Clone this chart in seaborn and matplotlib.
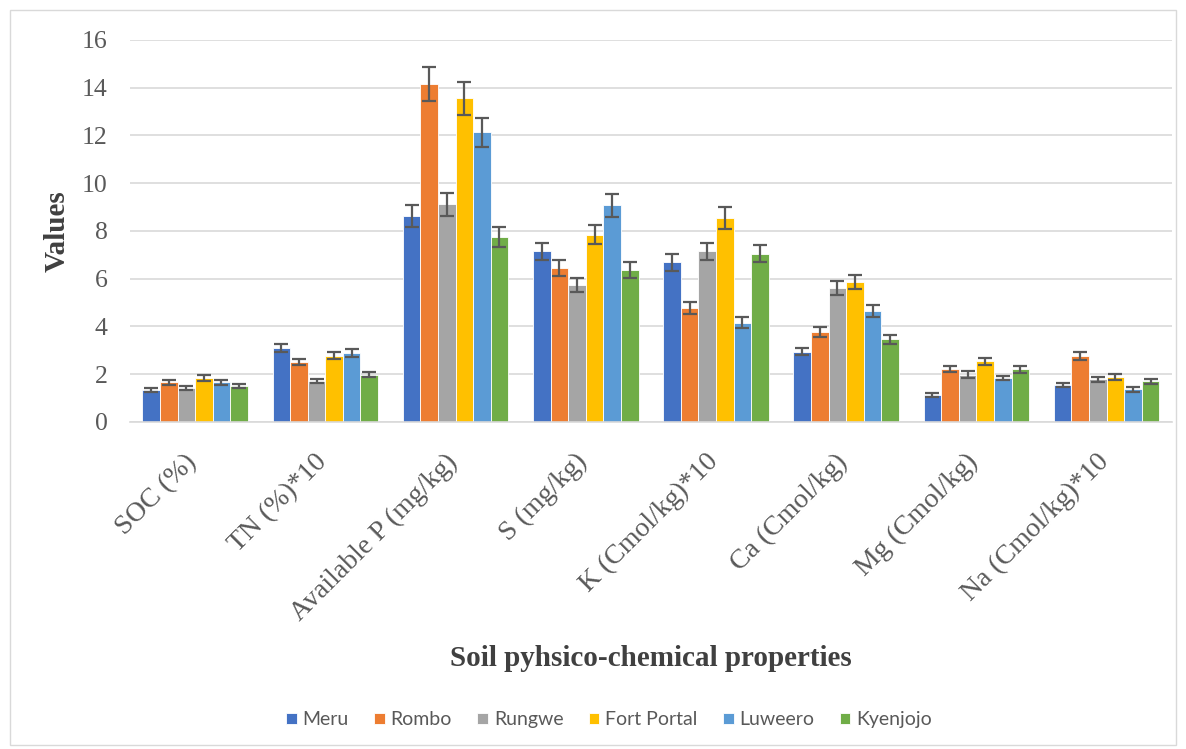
import numpy as np
import pandas as pd
import matplotlib
matplotlib.use("Agg")
import matplotlib.pyplot as plt
from matplotlib.patches import Rectangle
from matplotlib.transforms import ScaledTranslation
import seaborn as sns

properties = ["SOC (%)", "TN (%)*10", "Available P (mg/kg)", "S (mg/kg)",
              "K (Cmol/kg)*10", "Ca (Cmol/kg)", "Mg (Cmol/kg)", "Na (Cmol/kg)*10"]
sites = ["Meru", "Rombo", "Rungwe", "Fort Portal", "Luweero", "Kyenjojo"]

meru = [1.33, 3.10, 8.64, 7.15, 6.69, 2.95, 1.13, 1.56]
rombo = [1.66, 2.50, 14.15, 6.45, 4.78, 3.76, 2.22, 2.76]
rungwe = [1.42, 1.72, 9.12, 5.74, 7.15, 5.61, 1.98, 1.79]
fort_portal = [1.84, 2.78, 13.55, 7.85, 8.55, 5.85, 2.54, 1.88]
luweero = [1.66, 2.88, 12.14, 9.08, 4.16, 4.64, 1.84, 1.37]
kyenjojo = [1.51, 1.98, 7.76, 6.37, 7.05, 3.46, 2.21, 1.70]

meru_err = [0.08, 0.17, 0.46, 0.36, 0.36, 0.15, 0.09, 0.09]
rombo_err = [0.11, 0.13, 0.71, 0.34, 0.25, 0.20, 0.11, 0.17]
rungwe_err = [0.07, 0.08, 0.48, 0.31, 0.36, 0.29, 0.14, 0.11]
fort_portal_err = [0.11, 0.16, 0.68, 0.41, 0.46, 0.30, 0.15, 0.11]
luweero_err = [0.09, 0.16, 0.61, 0.48, 0.23, 0.25, 0.10, 0.10]
kyenjojo_err = [0.08, 0.11, 0.42, 0.34, 0.36, 0.19, 0.14, 0.10]

values = [meru, rombo, rungwe, fort_portal, luweero, kyenjojo]
errors = [meru_err, rombo_err, rungwe_err, fort_portal_err, luweero_err, kyenjojo_err]
colors = ["#4472C4", "#ED7D31", "#A5A5A5", "#FFC000", "#5B9BD5", "#70AD47"]

df = pd.DataFrame([
    {"Property": p, "Site": s, "Value": v}
    for s, vals in zip(sites, values)
    for p, v in zip(properties, vals)
])

sns.set_style("white")
plt.rcParams["font.family"] = ["Liberation Serif", "DejaVu Serif"]

fig = plt.figure(figsize=(11.86, 7.49), dpi=100)
ax = fig.add_axes([0.1096, 0.4366, 0.8784, 0.5100])

sns.barplot(data=df, x="Property", y="Value", hue="Site", order=properties,
            hue_order=sites, palette=colors, width=0.81, saturation=1,
            edgecolor="white", linewidth=0.6, errorbar=None, ax=ax)

for container, errs in zip(ax.containers, errors):
    xs = [b.get_x() + b.get_width() / 2 for b in container]
    ys = [b.get_height() for b in container]
    ax.errorbar(xs, ys, yerr=errs, fmt="none", ecolor="#595959",
                elinewidth=1.6, capsize=5, capthick=1.6, zorder=5)

ax.set_ylim(0, 16)
ax.set_xlim(-0.5, 7.5)
ax.set_yticks(np.arange(0, 17, 2))
ax.yaxis.grid(True, color="#d9d9d9", linewidth=1.2)
ax.set_axisbelow(True)
for side in ["top", "right", "left"]:
    ax.spines[side].set_visible(False)
ax.spines["bottom"].set_color("#d9d9d9")
ax.spines["bottom"].set_linewidth(1.2)
ax.tick_params(axis="both", length=0, colors="#595959")
ax.tick_params(axis="y", labelsize=18.5, pad=16)
ax.tick_params(axis="x", labelsize=20, pad=26)
shift = ScaledTranslation(-2 / 100, 0, fig.dpi_scale_trans)
for lbl in ax.get_xticklabels():
    lbl.set_rotation(45)
    lbl.set_ha("right")
    lbl.set_va("center")
    lbl.set_rotation_mode("anchor")
    lbl.set_transform(lbl.get_transform() + shift)

ax.set_ylabel("Values", fontsize=21, fontweight="bold", color="#404040", labelpad=8)
ax.set_xlabel("Soil pyhsico-chemical properties", fontsize=21, fontweight="bold",
              color="#404040", labelpad=14)

handles, labels = ax.get_legend_handles_labels()
ax.legend(handles, labels, loc="center", bbox_to_anchor=(0.5135, 0.039),
          bbox_transform=fig.transFigure, ncol=6, frameon=False,
          prop={"family": "Lato", "size": 14}, labelcolor="#595959",
          handlelength=0.55, handleheight=0.55, handletextpad=0.3,
          columnspacing=1.3)

fig.patches.append(Rectangle((10 / 1186, 4 / 749), 1166 / 1186, 735 / 749,
                             transform=fig.transFigure, fill=False,
                             edgecolor="#d9d9d9", linewidth=1.0))

fig.savefig("out.png", dpi=100, facecolor="white")
